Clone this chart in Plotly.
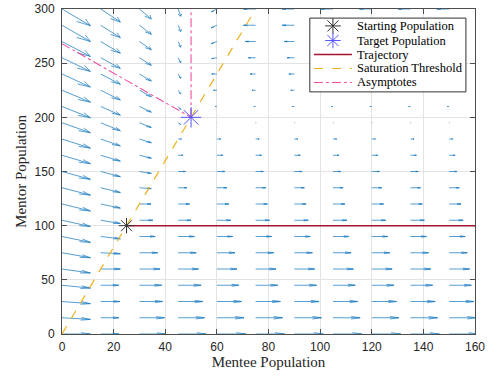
import plotly.graph_objects as go

# ---------------- data ----------------
mentee_grid = [0, 15, 30, 45, 60, 75, 90, 105, 120, 135, 150]
mentor_grid = [0, 15, 30, 45, 60, 75, 90, 105, 120, 135, 150, 165, 180, 195,
               210, 225, 240, 255, 270, 285, 300]

# field components per mentee column (values listed for mentor = 0..300)
U_x0 = [11.0] * 21
V_x0 = [0, -1.5, -2.0, -2.6, -3.7, -4.6, -5.4, -5.8, -6.4, -6.8, -7.2, -7.8,
        -8.4, -9.2, -10.4, -11.0, -12.0, -12.6, -13.8, -15.0, -15.4]
U_x15 = [7.0, 7.0, 7.4, 7.0, 7.6, 7.6, 7.6, 7.6, 7.6, 7.6, 7.6, 7.6, 7.6, 7.6,
         7.6, 7.6, 7.6, 7.6, 7.6, 7.6, 7.6]
V_x15 = [0, 0, 0, 0, 0, -0.9, -2.1, -3.0, -3.8, -4.4, -4.8, -5.4, -6.4, -7.4,
         -8.0, -9.0, -9.5, -9.8, -10.8, -11.4, -12.0]
U_x30 = [10.1, 9.7, 9.0, 8.6, 8.0, 7.1, 6.1, 5.2, 4.5, 4.6, 4.6, 4.6, 4.6, 4.6,
         4.6, 4.6, 4.6, 4.6, 4.6, 4.6, 4.6]
V_x30 = [0, 0, 0, 0, 0, 0, 0, 0, 0, -0.8, -1.8, -2.7, -3.5, -4.4, -5.2, -6.0,
         -6.5, -7.0, -7.7, -8.4, -9.2]
U_x45 = [10.8, 10.2, 9.6, 8.9, 7.9, 7.0, 6.3, 5.0, 4.4, 3.4, 2.8, 1.9, 1.3, 1.0,
         1.0, 1.0, 1.0, 1.0, 1.0, 1.0, 1.0]
V_x45 = [0, 0, 0, 0, 0, 0, 0, 0, 0, 0, 0, 0, 0, -1.6, -2.6, -3.4, -4.0, -4.5,
         -5.2, -5.8, -6.7]
U_x60 = [11.2, 10.5, 9.6, 8.5, 7.8, 7.0, 6.1, 5.4, 4.6, 3.9, 3.1, 2.3, 1.5, 0.1,
         -0.7, -1.3, -2.0, -2.0, -2.2, -2.2, -2.1]
V_x60 = [0, 0, 0, 0, 0, 0, 0, 0, 0, 0, 0, 0, 0, 0, 0, 0, 0, -0.8, -2.0, -2.4, -2.5]
U_far = [11.2, 10.5, 9.6, 8.6, 7.9, 7.0, 6.2, 5.4, 4.6, 3.9, 3.0, 2.3, 1.4, 0.2,
         -0.7, -1.4, -2.1, -2.8, -4.0, -4.7, -4.8]
V_far = [0] * 21

U_cols = [U_x0, U_x15, U_x30, U_x45, U_x60] + [U_far] * 6
V_cols = [V_x0, V_x15, V_x30, V_x45, V_x60] + [V_far] * 6

start_pt = (25, 100)
target_pt = (50, 200)
trajectory_x = [25, 160]
trajectory_y = [100, 100]
saturation_x = [0, 75]
saturation_y = [0, 300]
asym_x = [0, 50, None, 50, 50]
asym_y = [268, 200, None, 200, 300]

legend_labels = ["Starting Population", "Target Population", "Trajectory",
                 "Saturation Threshold", "Asymptotes"]

# ---------------- styles ----------------
C_QUIVER = "#1f7dc2"
C_START = "#333333"
C_TARGET = "#5555FF"
C_TRAJ = "#A2142F"
C_SAT = "#EDB120"
C_ASYM = "#F0509F"
SERIF = "Liberation Serif, Times New Roman, serif"

# ---------------- quiver (MATLAB-style heads in data space) ----------------
alpha, beta = 0.33, 0.33
qx, qy = [], []
for ci, x0 in enumerate(mentee_grid):
    for ri, y0 in enumerate(mentor_grid):
        u = U_cols[ci][ri]
        v = V_cols[ci][ri]
        tx, ty = x0 + u, y0 + v
        qx += [x0, tx, None]
        qy += [y0, ty, None]
        h1x = tx - alpha * (u + beta * v)
        h1y = ty - alpha * (v - beta * u)
        h2x = tx - alpha * (u - beta * v)
        h2y = ty - alpha * (v + beta * u)
        qx += [h1x, tx, h2x, None]
        qy += [h1y, ty, h2y, None]

fig = go.Figure()
fig.add_trace(go.Scatter(x=qx, y=qy, mode="lines",
                         line=dict(color=C_QUIVER, width=0.75),
                         showlegend=False, hoverinfo="skip"))
fig.add_trace(go.Scatter(x=trajectory_x, y=trajectory_y, mode="lines",
                         name=legend_labels[2], showlegend=False,
                         line=dict(color=C_TRAJ, width=1.5)))
fig.add_trace(go.Scatter(x=saturation_x, y=saturation_y, mode="lines",
                         name=legend_labels[3], showlegend=False,
                         line=dict(color=C_SAT, width=1.2, dash="dash")))
fig.add_trace(go.Scatter(x=asym_x, y=asym_y, mode="lines",
                         name=legend_labels[4], showlegend=False,
                         line=dict(color=C_ASYM, width=1.1, dash="dashdot")))
fig.add_trace(go.Scatter(x=[start_pt[0]], y=[start_pt[1]], mode="markers",
                         name=legend_labels[0], showlegend=False,
                         marker=dict(symbol="asterisk-open", size=13,
                                     color=C_START,
                                     line=dict(color=C_START, width=1))))
fig.add_trace(go.Scatter(x=[target_pt[0]], y=[target_pt[1]], mode="markers",
                         name=legend_labels[1], showlegend=False,
                         marker=dict(symbol="asterisk-open", size=17,
                                     color=C_TARGET,
                                     line=dict(color=C_TARGET, width=1))))

# ---------------- compact MATLAB-like legend on an overlay axis ----------------
LX0, LX1, LYT, LYB = 0.600, 0.978, 0.972, 0.745
row_y = [0.948, 0.903, 0.860, 0.817, 0.774]
samp_x0, samp_x1, samp_xm, text_x = 0.610, 0.702, 0.656, 0.709

leg = dict(xaxis="x2", yaxis="y2", showlegend=False, hoverinfo="skip")
fig.add_trace(go.Scatter(x=[LX0, LX1, LX1, LX0, LX0], y=[LYB, LYB, LYT, LYT, LYB],
                         mode="lines", fill="toself", fillcolor="white",
                         line=dict(color="#333333", width=1), **leg))
line_styles = [None, None, dict(color=C_TRAJ, width=1.5),
               dict(color=C_SAT, width=1.2, dash="dash"),
               dict(color=C_ASYM, width=1.1, dash="dashdot")]
for i, st in enumerate(line_styles):
    if st is not None:
        fig.add_trace(go.Scatter(x=[samp_x0, samp_x1], y=[row_y[i], row_y[i]],
                                 mode="lines", line=st, **leg))
fig.add_trace(go.Scatter(x=[samp_xm], y=[row_y[0]], mode="markers",
                         marker=dict(symbol="asterisk-open", size=13,
                                     color=C_START,
                                     line=dict(color=C_START, width=1)), **leg))
fig.add_trace(go.Scatter(x=[samp_xm], y=[row_y[1]], mode="markers",
                         marker=dict(symbol="asterisk-open", size=13,
                                     color=C_TARGET,
                                     line=dict(color=C_TARGET, width=1)), **leg))

annotations = [dict(text=lab, xref="paper", yref="paper", x=text_x, y=row_y[i],
                    xanchor="left", yanchor="middle", showarrow=False,
                    font=dict(family=SERIF, size=12.5, color="#000000"))
               for i, lab in enumerate(legend_labels)]

axis_common = dict(showline=True, linecolor="#4d4d4d", linewidth=1,
                   mirror="ticks", ticks="inside", ticklen=5, tickcolor="#4d4d4d",
                   showgrid=True, gridcolor="#e3e3e3", gridwidth=1,
                   zeroline=False, layer="below traces", automargin=False,
                   tickfont=dict(family="Liberation Sans, Arial", size=12,
                                 color="#262626"))

fig.update_layout(
    template="none",
    width=488, height=376,
    margin=dict(l=62, r=13, t=9, b=42, autoexpand=False),
    paper_bgcolor="white", plot_bgcolor="white",
    xaxis=dict(range=[0, 160], dtick=20, tick0=0, ticklabelstandoff=2,
               title=dict(text="Mentee Population", standoff=3,
                          font=dict(family=SERIF, size=15, color="#262626")),
               **axis_common),
    yaxis=dict(range=[0, 300], dtick=50, tick0=0, ticklabelstandoff=4,
               title=dict(text="Mentor Population", standoff=4,
                          font=dict(family=SERIF, size=15, color="#262626")),
               **axis_common),
    xaxis2=dict(range=[0, 1], overlaying="x", visible=False, fixedrange=True),
    yaxis2=dict(range=[0, 1], overlaying="y", visible=False, fixedrange=True),
    annotations=annotations,
    showlegend=False,
)

fig.write_html("out.html",
               config={"displayModeBar": False, "staticPlot": True},
               post_script="document.body.style.margin='0px';"
                           "document.body.style.overflow='hidden';")
